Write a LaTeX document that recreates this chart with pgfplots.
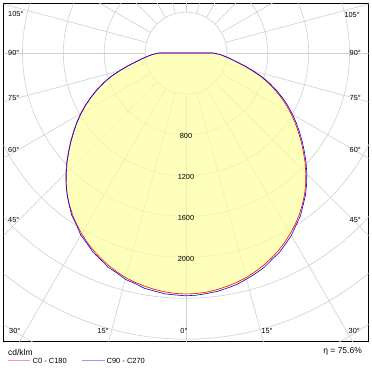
\documentclass[border=0pt]{standalone}
\usepackage{fontspec}
\setmainfont{Liberation Sans}
\usepackage{pgfplots}
\usepackage{pgfplotstable}
\pgfplotsset{compat=1.18}
\definecolor{gridgray}{RGB}{208,208,208}
\definecolor{fillyellow}{RGB}{255,255,160}
\definecolor{legred}{RGB}{255,150,150}
\definecolor{legblue}{RGB}{150,150,255}

% C0 - C180 : angle (deg, negative = C180 side), intensity cd/klm
\pgfplotstableread{
a I
-95 0
-90 262
-87.5 330
-85 380
-82.5 436
-80 500
-77.5 585
-75 675
-72.5 774
-70 862
-67.5 946
-65 1030
-62.5 1112
-60 1193
-57.5 1270
-55 1345
-52.5 1424
-50 1502
-47.5 1584
-45 1662
-42.5 1737
-40 1808
-37.5 1873
-35 1934
-32.5 1990
-30 2042
-27.5 2091
-25 2136
-22.5 2176
-20 2213
-17.5 2246
-15 2276
-12.5 2299
-10 2318
-7.5 2334
-5 2347
-2.5 2355
0 2358
2.5 2356
5 2348
7.5 2335
10 2318
12.5 2298
15 2275
17.5 2245
20 2212
22.5 2175
25 2135
27.5 2090
30 2040
32.5 1988
35 1932
37.5 1870
40 1805
42.5 1734
45 1658
47.5 1580
50 1498
52.5 1420
55 1340
57.5 1264
60 1186
62.5 1108
65 1026
67.5 942
70 858
72.5 770
75 672
77.5 582
80 498
82.5 436
85 380
87.5 332
90 265
95 0
}\redtab

% C90 - C270
\pgfplotstableread{
a I
-95 0
-90 262
-87.5 328
-85 378
-82.5 434
-80 497
-77.5 582
-75 671
-72.5 770
-70 858
-67.5 942
-65 1024
-62.5 1106
-60 1186
-57.5 1264
-55 1338
-52.5 1418
-50 1496
-47.5 1578
-45 1656
-42.5 1736
-40 1810
-37.5 1878
-35 1946
-32.5 1995
-30 2058
-27.5 2100
-25 2152
-22.5 2186
-20 2230
-17.5 2256
-15 2293
-12.5 2310
-10 2338
-7.5 2350
-5 2366
-2.5 2370
0 2376
2.5 2372
5 2362
7.5 2353
10 2335
12.5 2318
15 2290
17.5 2263
20 2233
22.5 2190
25 2156
27.5 2108
30 2062
32.5 2001
35 1950
37.5 1881
40 1818
42.5 1746
45 1672
47.5 1594
50 1514
52.5 1436
55 1358
57.5 1282
60 1204
62.5 1126
65 1044
67.5 960
70 874
72.5 784
75 686
77.5 594
80 508
82.5 442
85 384
87.5 334
90 267
95 0
}\bluetab

\begin{document}
\begin{tikzpicture}[x=1bp,y=1bp]
\useasboundingbox (0,0) rectangle (372,373);
\begin{axis}[
  at={(3.5bp,31.5bp)}, anchor=south west,
  scale only axis, width=365bp, height=338bp,
  xmin=-1785.7, xmax=1785.7, ymin=-2822.9, ymax=484.3,
  axis line style={black, line width=0.9bp},
  ticks=none, clip=true,
]
% grid rings
\pgfplotsinvokeforeach{400,800,1200,1600,2000,2400,2800,3200,3600}{
  \draw[gridgray, line width=0.6bp] (axis cs:0,0) circle[radius=#1];
}
% radial lines
\pgfplotsinvokeforeach{0,15,30,45,60,75,90,105,120,135,150,165,180,195,210,225,240,255,270,285,300,315,330,345}{
  \draw[gridgray, line width=0.6bp] (axis cs:{400*sin(#1)},{-400*cos(#1)}) -- (axis cs:{4500*sin(#1)},{-4500*cos(#1)});
}
% filled area
\addplot[draw=none, fill=fillyellow, fill opacity=0.7]
  table[x expr={\thisrow{I}*sin(\thisrow{a})}, y expr={-\thisrow{I}*cos(\thisrow{a})}] {\bluetab};
% curves
\addplot[red, line width=0.6bp]
  table[x expr={\thisrow{I}*sin(\thisrow{a})}, y expr={-\thisrow{I}*cos(\thisrow{a})}] {\redtab};
\addplot[blue, line width=0.6bp]
  table[x expr={\thisrow{I}*sin(\thisrow{a})}, y expr={-\thisrow{I}*cos(\thisrow{a})}] {\bluetab};
% ring labels
\pgfplotsinvokeforeach{800,1200,1600,2000}{
  \node[font=\fontsize{7.4}{8}\selectfont, inner sep=0pt] at (axis cs:0,-#1) [yshift=-1.5bp] {#1};
}
\end{axis}
% angle labels
\begin{scope}[every node/.style={font=\fontsize{7.4}{8}\selectfont, inner sep=0pt}]
\node[anchor=west] at (8,359) {105°};
\node[anchor=west] at (8,320) {90°};
\node[anchor=west] at (8,275) {75°};
\node[anchor=west] at (8,223.5) {60°};
\node[anchor=west] at (8,153.5) {45°};
\node[anchor=west] at (9,42) {30°};
\node at (103,42) {15°};
\node at (184,42) {0°};
\node at (267,42) {15°};
\node[anchor=east] at (360,42) {30°};
\node[anchor=east] at (361,153.5) {45°};
\node[anchor=east] at (361,223.5) {60°};
\node[anchor=east] at (361,274.7) {75°};
\node[anchor=east] at (361,320) {90°};
\node[anchor=east] at (360,358.5) {105°};
\end{scope}
% legend
\node[anchor=west, inner sep=0pt, font=\fontsize{8.5}{9}\selectfont] at (8,20.5) {cd/klm};
\draw[legred, line width=1bp] (8,12.3) -- (30,12.3);
\node[anchor=west, inner sep=0pt, font=\fontsize{7.5}{8}\selectfont] at (32.5,12.5) {C0 - C180};
\draw[legblue, line width=1bp] (82,12.3) -- (105,12.3);
\node[anchor=west, inner sep=0pt, font=\fontsize{7.5}{8}\selectfont] at (106.5,12.5) {C90 - C270};
\node[anchor=east, inner sep=0pt, font=\fontsize{8.5}{9}\selectfont] at (362,22) {η = 75.6\%};
\end{tikzpicture}
\end{document}
